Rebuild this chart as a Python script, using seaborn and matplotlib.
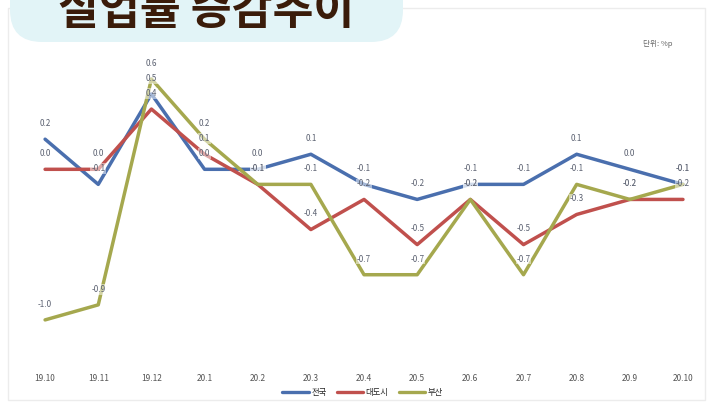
import pandas as pd
import matplotlib
matplotlib.use('Agg')
import matplotlib.pyplot as plt
import seaborn as sns
from matplotlib.patches import FancyBboxPatch, Rectangle

months = ['19.10', '19.11', '19.12', '20.1', '20.2', '20.3', '20.4',
          '20.5', '20.6', '20.7', '20.8', '20.9', '20.10']
series_names = ['전국', '대도시', '부산']
nation = [0.2, -0.1, 0.5, 0.0, 0.0, 0.1, -0.1, -0.2, -0.1, -0.1, 0.1, 0.0, -0.1]
metro = [0.0, 0.0, 0.4, 0.1, -0.1, -0.4, -0.2, -0.5, -0.2, -0.5, -0.3, -0.2, -0.2]
busan = [-1.0, -0.9, 0.6, 0.2, -0.1, -0.1, -0.7, -0.7, -0.2, -0.7, -0.1, -0.2, -0.1]
colors = ['#4a6fae', '#c0504d', '#a5a84e']

rows = []
for name, vals in zip(series_names, [nation, metro, busan]):
    for i, v in enumerate(vals):
        rows.append({'idx': i, 'month': months[i], 'value': v, 'series': name})
data = pd.DataFrame(rows)

sns.set_theme(style='white')
plt.rcParams['font.family'] = ['Noto Sans CJK KR', 'DejaVu Sans']

fig = plt.figure(figsize=(7.11, 4.07), dpi=100)

# outer frame of the chart
fig.patches.append(Rectangle((8 / 711, 7 / 407), 697 / 711, 392 / 407,
                             transform=fig.transFigure, fill=False,
                             edgecolor='#ececec', linewidth=1.0, zorder=0))

ax = fig.add_axes([0.041, 0.14, 0.942, 0.74])
sns.lineplot(data=data, x='idx', y='value', hue='series', hue_order=series_names,
             palette=colors, linewidth=2.5, ax=ax, legend=False)

for name, col in zip(series_names, colors):
    sub = data[data['series'] == name]
    for _, r in sub.iterrows():
        ax.annotate(f'{r["value"]:.1f}', (r['idx'], r['value']),
                    xytext=(0, 8), textcoords='offset points',
                    ha='center', va='bottom', fontsize=5.8, color='#5a6070',
                    bbox=dict(boxstyle='square,pad=0.1', fc='white', ec='none', alpha=0.5))

ax.set_xlim(-0.3, 12.3)
ax.set_ylim(-1.2, 0.8)
ax.set_xticks(range(len(months)))
ax.set_xticklabels(months, fontsize=6, color='#555555')
ax.set_yticks([])
ax.set_xlabel('')
ax.set_ylabel('')
ax.tick_params(axis='x', length=0, pad=17)
for s in ax.spines.values():
    s.set_visible(False)
ax.patch.set_alpha(0)

# legend
handles = [plt.Line2D([], [], color=c, linewidth=2.4) for c in colors]
fig.legend(handles, series_names, loc='center', bbox_to_anchor=(0.51, 0.035),
           ncol=3, frameon=False, fontsize=6, handlelength=3.2, columnspacing=1.2,
           handletextpad=0.3)

# unit label
fig.text(0.925, 0.893, '단위: %p', fontsize=5.5, color='#666666', ha='center', va='center')

# title badge
fig.patches.append(FancyBboxPatch((10 / 711, 1 - 42 / 407), 393 / 711, 0.2,
                                  boxstyle='round,pad=0,rounding_size=0.045',
                                  transform=fig.transFigure, facecolor='#e2f4f7',
                                  edgecolor='none', zorder=1, mutation_aspect=711 / 407))
fig.text(0.29, 0.972, '실업률 증감추이', fontsize=32, fontweight='bold',
         color='#3a1c0a', ha='center', va='center', zorder=2)

fig.savefig('out.png', dpi=100)
